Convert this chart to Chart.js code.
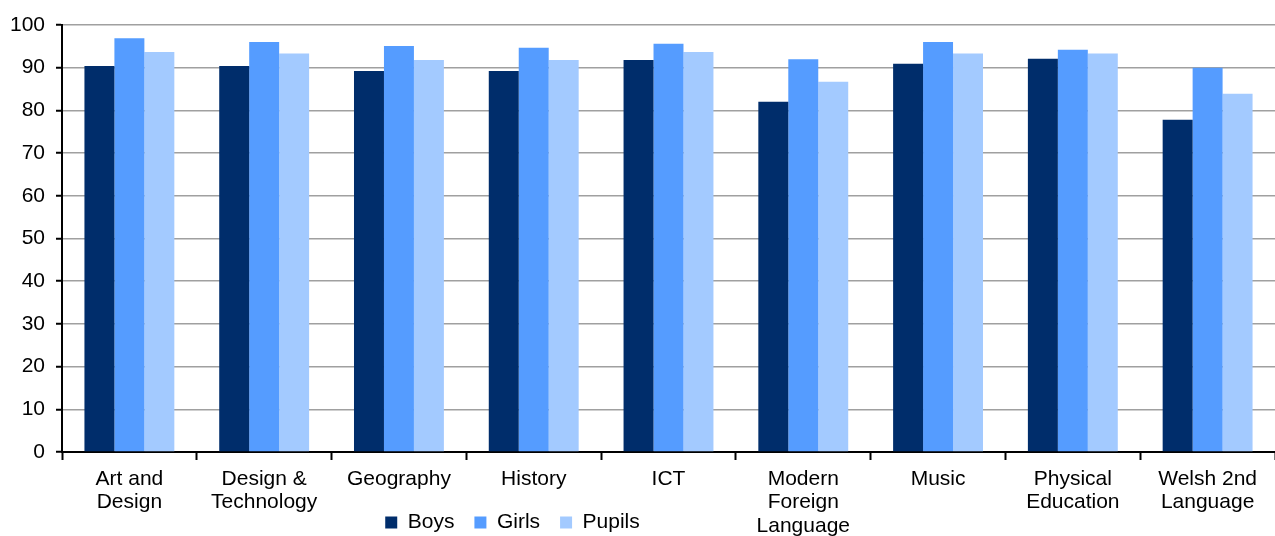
<!DOCTYPE html>
<html lang="en">
<head>
<meta charset="UTF-8">
<title>Subjects by gender</title>
<script src="https://cdn.jsdelivr.net/npm/chart.js@4.4.0/dist/chart.umd.js"></script>
<style>
  html, body { margin: 0; padding: 0; background: #fff; }
  #wrap { width: 1275px; height: 536px; }
</style>
</head>
<body>
<div id="wrap"><canvas id="chart"></canvas></div>
<script>
const categories = [
  ['Art and', 'Design'],
  ['Design &', 'Technology'],
  'Geography',
  'History',
  'ICT',
  ['Modern', 'Foreign', 'Language'],
  'Music',
  ['Physical', 'Education'],
  ['Welsh 2nd', 'Language']
];
const boys = [90.4, 90.4, 89.2, 89.2, 91.8, 82.0, 90.9, 92.1, 77.8];
const girls = [96.9, 96.0, 95.1, 94.7, 95.6, 92.0, 96.0, 94.2, 90.0];
const pupils = [93.7, 93.3, 91.8, 91.8, 93.7, 86.7, 93.3, 93.3, 83.9];
const yTicks = [0, 10, 20, 30, 40, 50, 60, 70, 80, 90, 100];

Chart.defaults.font.family = '"Liberation Sans", Arial, sans-serif';
Chart.defaults.font.size = 21;
Chart.defaults.color = '#000';

// legend sits left of centre and overlaps the long x labels, like the original;
// the x scale is stretched to the canvas bottom so its labels aren't clipped
const legendShift = {
  id: 'legendShift',
  afterLayout(chart) {
    const lg = chart.legend;
    if (lg) {
      lg.left -= 125;
      lg.right -= 125;
      lg.top += 7;
      lg.bottom += 7;
    }
    chart.scales.x.bottom = chart.height;
  }
};

new Chart(document.getElementById('chart'), {
  type: 'bar',
  data: {
    labels: categories,
    datasets: [
      { label: 'Boys', data: boys, backgroundColor: '#002D6B' },
      { label: 'Girls', data: girls, backgroundColor: '#559CFF' },
      { label: 'Pupils', data: pupils, backgroundColor: '#A3CAFF' }
    ]
  },
  options: {
    responsive: true,
    maintainAspectRatio: false,
    animation: false,
    layout: { padding: { top: 25, right: 0, left: 0, bottom: 0 } },
    datasets: { bar: { categoryPercentage: 0.667, barPercentage: 1.0 } },
    plugins: {
      legend: {
        position: 'bottom',
        labels: {
          boxWidth: 12,
          boxHeight: 12,
          padding: 20,
          font: { size: 21 }
        }
      },
      tooltip: { enabled: false }
    },
    scales: {
      x: {
        offset: true,
        grid: {
          offset: true,
          drawOnChartArea: false,
          tickLength: 8,
          tickColor: '#000',
          tickWidth: 2
        },
        border: { color: '#000', width: 2 },
        ticks: { maxRotation: 0, autoSkip: false, padding: 8, font: { size: 21, lineHeight: 1.1 } },
        afterFit(scale) { scale.height = 33; }
      },
      y: {
        min: 0,
        max: 100,
        afterBuildTicks(scale) { scale.ticks = yTicks.map(v => ({ value: v })); },
        grid: {
          color: '#A0A0A0',
          lineWidth: 1.5,
          tickLength: 6,
          tickColor: '#000',
          tickWidth: 2
        },
        border: { color: '#000', width: 2 },
        ticks: { padding: 11 },
        afterFit(scale) { scale.width = 62; }
      }
    }
  },
  plugins: [legendShift]
});
</script>
</body>
</html>
